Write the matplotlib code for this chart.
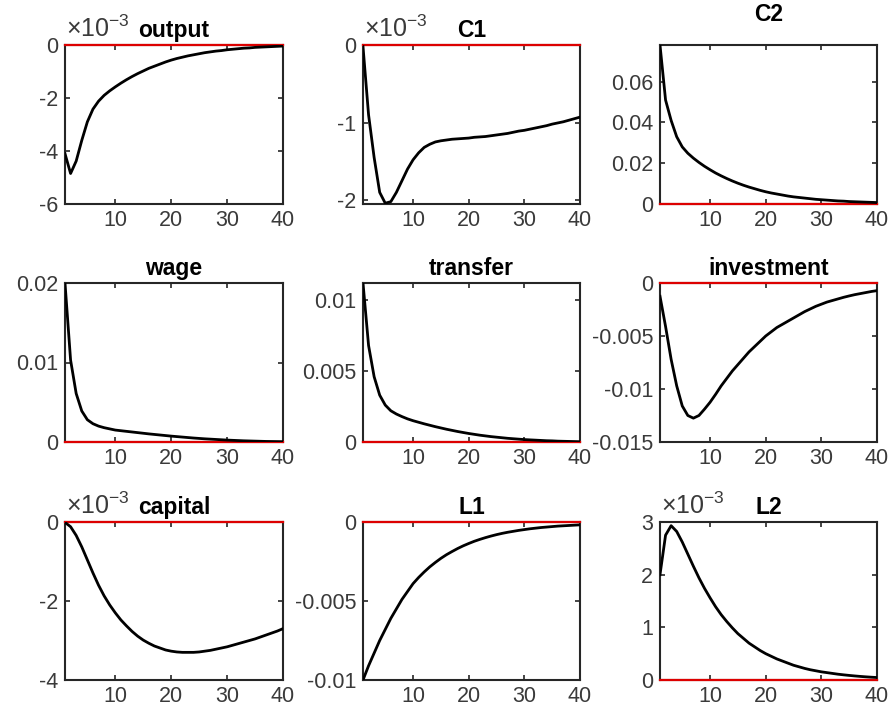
import numpy as np
import matplotlib
matplotlib.use("Agg")
import matplotlib.pyplot as plt
from matplotlib.ticker import FuncFormatter

plt.rcParams["font.family"] = ["Liberation Sans", "DejaVu Sans"]
plt.rcParams["axes.unicode_minus"] = False
plt.rcParams["mathtext.fontset"] = "custom"
plt.rcParams["mathtext.rm"] = "Liberation Sans"

periods = np.arange(1, 41)

# Respuestas al impulso (output, C1, capital, L2 en unidades de 1e-3)
output = [-4.10, -4.85, -4.38, -3.60, -2.90, -2.42, -2.12, -1.90, -1.73, -1.58,
          -1.44, -1.31, -1.19, -1.08, -0.98, -0.88, -0.80, -0.72, -0.64, -0.57,
          -0.51, -0.46, -0.41, -0.37, -0.33, -0.29, -0.26, -0.23, -0.21, -0.18,
          -0.16, -0.14, -0.12, -0.11, -0.09, -0.08, -0.07, -0.06, -0.05, -0.04]
c1 = [-0.02, -0.90, -1.45, -1.90, -2.04, -2.02, -1.90, -1.75, -1.60, -1.48,
      -1.39, -1.32, -1.28, -1.25, -1.235, -1.225, -1.215, -1.21, -1.205, -1.20,
      -1.19, -1.185, -1.18, -1.17, -1.16, -1.15, -1.14, -1.125, -1.11, -1.10,
      -1.085, -1.07, -1.055, -1.04, -1.02, -1.005, -0.99, -0.97, -0.95, -0.93]
c2 = [0.078, 0.051, 0.041, 0.033, 0.028, 0.0249, 0.0225, 0.0204, 0.0185, 0.0168,
      0.0152, 0.0138, 0.0125, 0.0113, 0.0102, 0.0092, 0.0083, 0.0075, 0.0067, 0.0060,
      0.0054, 0.0049, 0.0044, 0.0039, 0.0035, 0.0032, 0.0029, 0.0026, 0.0023, 0.0021,
      0.0019, 0.0017, 0.0015, 0.0014, 0.0012, 0.0011, 0.0010, 0.0009, 0.0008, 0.0007]
wage = [0.0200, 0.0103, 0.0061, 0.0039, 0.0028, 0.0023, 0.0020, 0.0018, 0.00165, 0.0015,
        0.00142, 0.00134, 0.00126, 0.00118, 0.0011, 0.00102, 0.00095, 0.00088, 0.00081, 0.00074,
        0.00068, 0.00062, 0.00056, 0.0005, 0.00045, 0.0004, 0.00036, 0.00032, 0.00028, 0.00024,
        0.00021, 0.00018, 0.00015, 0.00013, 0.00011, 0.00009, 0.00007, 0.00006, 0.00005, 0.00004]
transfer = [0.0112, 0.0068, 0.0046, 0.0033, 0.0026, 0.0022, 0.00197, 0.00179, 0.00163, 0.0015,
            0.00139, 0.00128, 0.00118, 0.00108, 0.00099, 0.0009, 0.00082, 0.00074, 0.00067, 0.0006,
            0.00054, 0.00048, 0.00043, 0.00038, 0.00034, 0.0003, 0.00026, 0.00023, 0.0002, 0.00017,
            0.00015, 0.00013, 0.00011, 0.00009, 0.00008, 0.00006, 0.00005, 0.00004, 0.00003, 0.00002]
investment = [-0.00125, -0.0041, -0.0072, -0.0097, -0.0116, -0.0125, -0.01275, -0.0125, -0.0119, -0.01125,
              -0.0105, -0.0097, -0.009, -0.0083, -0.0077, -0.0071, -0.0065, -0.006, -0.0055, -0.005,
              -0.0046, -0.0042, -0.0039, -0.0036, -0.0033, -0.0030, -0.0027, -0.00245, -0.0022, -0.0020,
              -0.0018, -0.00165, -0.0015, -0.00135, -0.00122, -0.0011, -0.001, -0.0009, -0.0008, -0.00072]
capital = [-0.01, -0.12, -0.34, -0.63, -0.96, -1.29, -1.60, -1.87, -2.10, -2.30,
           -2.48, -2.63, -2.77, -2.89, -2.99, -3.07, -3.14, -3.19, -3.24, -3.27,
           -3.29, -3.30, -3.30, -3.30, -3.29, -3.27, -3.25, -3.22, -3.19, -3.16,
           -3.12, -3.08, -3.04, -3.00, -2.96, -2.91, -2.86, -2.81, -2.76, -2.70]
l1 = [-0.01, -0.0091, -0.0083, -0.0075, -0.0068, -0.0061, -0.0055, -0.0049, -0.0044, -0.0039,
      -0.00351, -0.00316, -0.00284, -0.00256, -0.0023, -0.00207, -0.00187, -0.00168, -0.00151, -0.00136,
      -0.00122, -0.0011, -0.00099, -0.00089, -0.0008, -0.00072, -0.00065, -0.00059, -0.00053, -0.00048,
      -0.00043, -0.00039, -0.00035, -0.00032, -0.00029, -0.00026, -0.00024, -0.00022, -0.0002, -0.00018]
l2 = [2.00, 2.75, 2.93, 2.82, 2.62, 2.39, 2.16, 1.94, 1.74, 1.56,
      1.39, 1.24, 1.11, 0.99, 0.88, 0.79, 0.70, 0.63, 0.56, 0.50,
      0.45, 0.40, 0.36, 0.32, 0.28, 0.25, 0.22, 0.195, 0.175, 0.155,
      0.14, 0.125, 0.11, 0.098, 0.087, 0.077, 0.068, 0.06, 0.053, 0.047]

titles = ["output", "C1", "C2", "wage", "transfer", "investment", "capital", "L1", "L2"]
series = [output, c1, c2, wage, transfer, investment, capital, l1, l2]
scaled = [True, True, False, False, False, False, True, False, True]
ylims = [(-6, 0), (-2.05, 0), (0, 0.078), (0, 0.02), (0, 0.0112), (-0.015, 0),
         (-4, 0), (-0.01, 0), (0, 3)]
yticks = [[-6, -4, -2, 0], [-2, -1, 0], [0, 0.02, 0.04, 0.06], [0, 0.01, 0.02],
          [0, 0.005, 0.01], [-0.015, -0.01, -0.005, 0], [-4, -2, 0],
          [-0.01, -0.005, 0], [0, 1, 2, 3]]

# Posiciones en pixeles (izq, der) y (arriba, abajo)
W, H = 892, 711
cols = [(65, 283), (363, 580), (660, 877)]
rows = [(45, 204), (283, 442), (522, 680)]

fig = plt.figure(figsize=(W / 100, H / 100), dpi=100)
grey = "#262626"

for i, (title, y) in enumerate(zip(titles, series)):
    x0, x1 = cols[i % 3]
    y0, y1 = rows[i // 3]
    ax = fig.add_axes([x0 / W, 1 - y1 / H, (x1 - x0) / W, (y1 - y0) / H])

    ax.plot(periods, y, color="black", lw=2.0, zorder=4)
    # Linea de referencia en cero (encima del borde del eje)
    ax.plot(periods, np.zeros(len(periods)), color="#dd0000", lw=1.6, zorder=3.5,
            clip_on=False)

    ax.set_xlim(1, 40)
    ax.set_ylim(*ylims[i])
    ax.set_xticks([10, 20, 30, 40])
    ax.set_yticks(yticks[i])
    ax.yaxis.set_major_formatter(FuncFormatter(lambda v, p: f"{v:g}"))
    ax.tick_params(direction="in", top=True, right=True, length=3.5, width=1.2,
                   labelsize=15.5, colors=grey, labelcolor="#3a3a3a")
    ax.tick_params(axis="y", pad=5)
    ax.tick_params(axis="x", pad=4)
    for s in ax.spines.values():
        s.set_linewidth(1.5)
        s.set_color(grey)

    pad = 17 if title == "C2" else 5.5
    ax.set_title(title, fontsize=16.5, fontweight="bold", pad=pad)

    if scaled[i]:
        ax.annotate(r"$\mathregular{\times10^{-3}}$", xy=(0, 1), xycoords="axes fraction",
                    xytext=(1, 2.5), textcoords="offset points", ha="left", va="bottom",
                    fontsize=18, color="#3a3a3a")

fig.savefig("out.png", dpi=100)
